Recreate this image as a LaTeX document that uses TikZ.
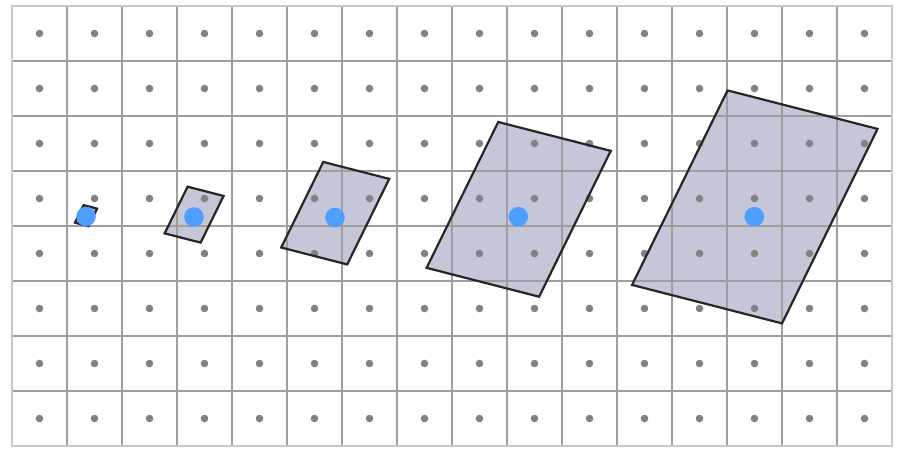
\documentclass[tikz,border=0pt]{standalone}
\definecolor{cellgray}{RGB}{158,158,158}
\definecolor{rimgray}{RGB}{200,200,200}
\definecolor{dotgray}{RGB}{130,130,130}
\definecolor{boxfill}{RGB}{197,198,215}
\definecolor{centerblue}{RGB}{77,158,255}
\begin{document}
\begin{tikzpicture}[x=1pt, y=-1pt]
  \useasboundingbox (0,0) rectangle (921,461);

  % Boxes: blue centre x, y, scale
  \foreach \cx/\cy/\s in {86/216.5/0.09, 194/217/0.24, 335/217.5/0.44, 518.3/216.7/0.75, 754.3/216.7/1.0} {
    \fill[boxfill] (\cx+\s*0.5-\s*27.25, \cy-\s*9.8-\s*116.5) -- ++(\s*150, \s*38.5) -- ++(\s*-95.5, \s*194.5) -- ++(\s*-150, \s*-38.5) -- cycle;
  }

  % Grid
  \foreach \i in {1,...,15}
    \draw[cellgray, line width=1.1pt] (12+55*\i, 6) -- (12+55*\i, 446);
  \foreach \j in {1,...,7}
    \draw[cellgray, line width=1.1pt] (12, 6+55*\j) -- (892, 6+55*\j);
  \draw[rimgray, line width=1.4pt] (12,6) rectangle (892,446);

  % Sample points
  \foreach \i in {0,...,15} {
    \foreach \j in {0,...,7} {
      \fill[dotgray] (39.5+55*\i, 33.5+55*\j) circle[radius=3.8];
    }
  }

  % Box outlines and centres
  \foreach \cx/\cy/\s in {86/216.5/0.09, 194/217/0.24, 335/217.5/0.44, 518.3/216.7/0.75, 754.3/216.7/1.0} {
    \draw[black!85, line width=2.2pt, line join=miter] (\cx+\s*0.5-\s*27.25, \cy-\s*9.8-\s*116.5) -- ++(\s*150, \s*38.5) -- ++(\s*-95.5, \s*194.5) -- ++(\s*-150, \s*-38.5) -- cycle;
    \fill[centerblue] (\cx, \cy) circle[radius=9.8];
  }
\end{tikzpicture}
\end{document}
